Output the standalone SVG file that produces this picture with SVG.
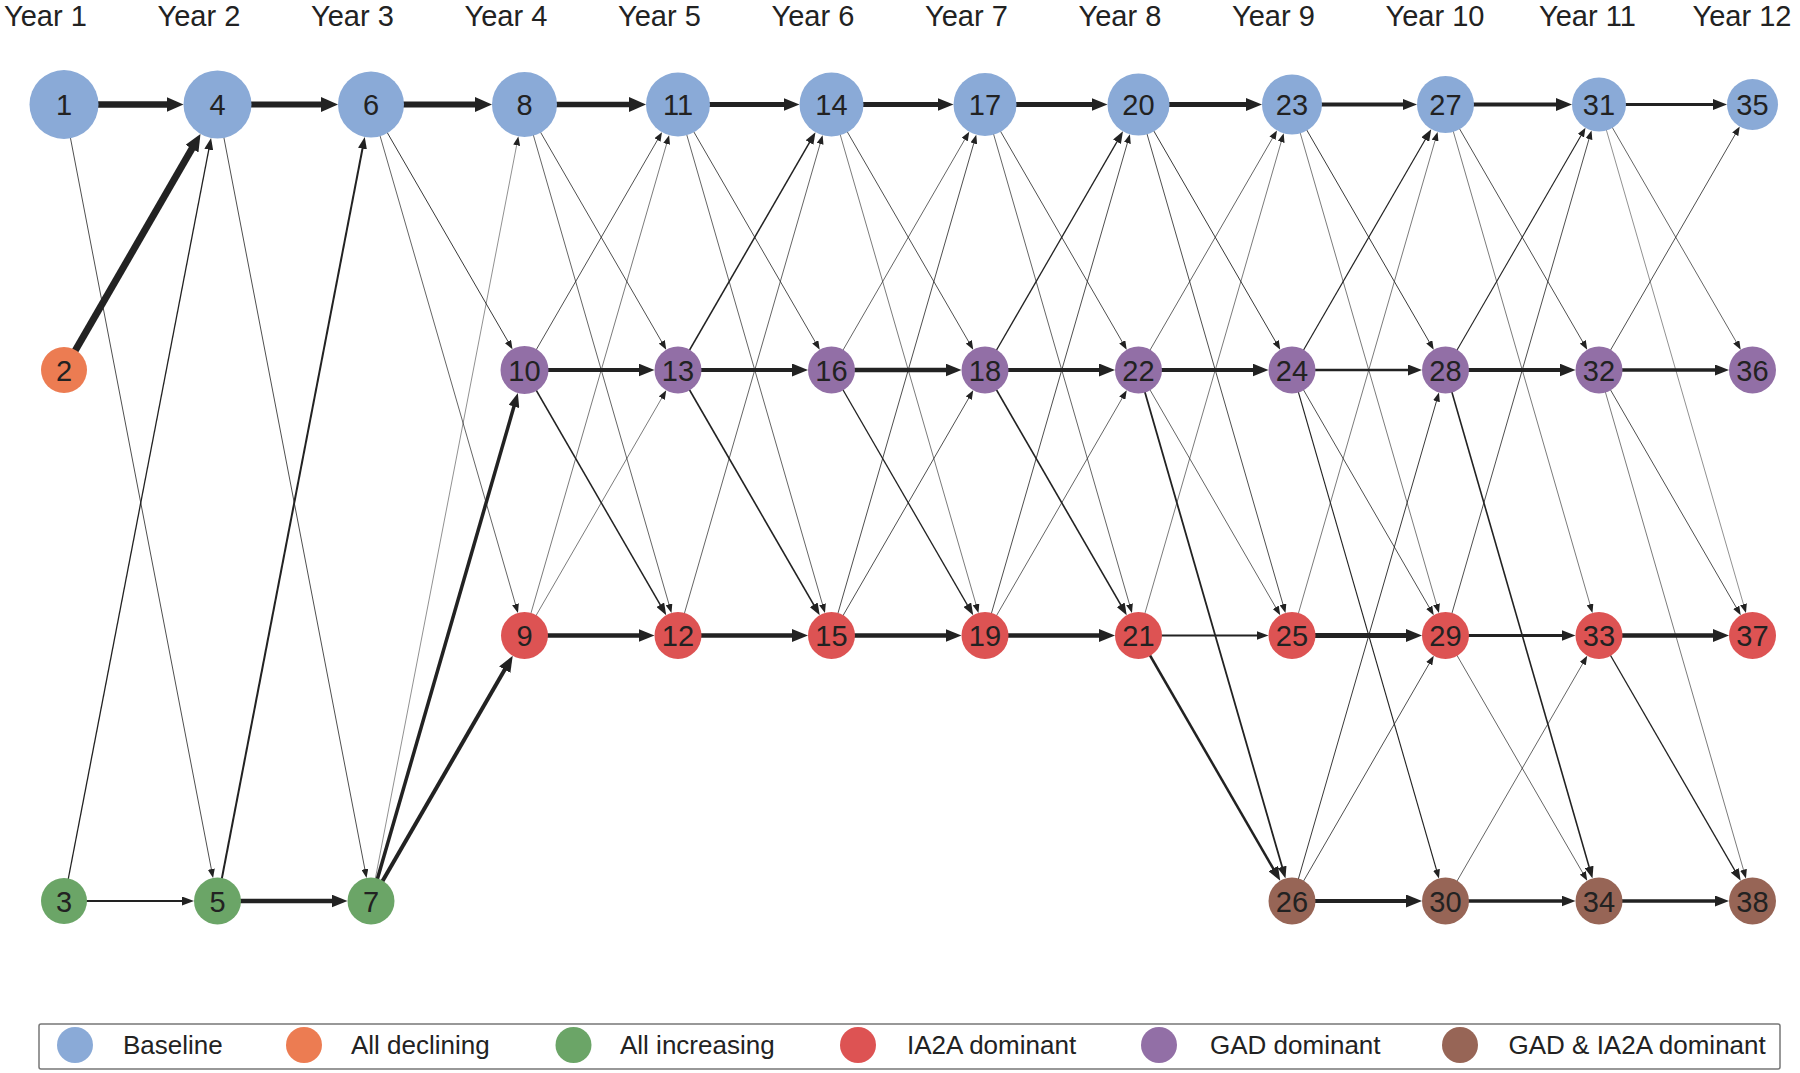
<svg xmlns="http://www.w3.org/2000/svg" width="1800" height="1073" viewBox="0 0 1800 1073">
<defs>
<style>
.e{fill:none;stroke:#222}
.base{fill:#8AAAD7}
.decl{fill:#EC7C52}
.inc{fill:#6BA567}
.ia2a{fill:#DD5353}
.gad{fill:#926FA6}
.both{fill:#976556}
text{font-family:"Liberation Sans",Arial,sans-serif;fill:#222}
.nl{font-size:29px;text-anchor:middle}
.yl{font-size:29px}
.lg{font-size:26px}
</style>
<marker id="m1" markerUnits="userSpaceOnUse" viewBox="0 0 9 7" markerWidth="9" markerHeight="7" refX="1" refY="3.5" orient="auto"><path d="M0,0L9,3.5L0,7z" fill="#222"/></marker>
<marker id="m2" markerUnits="userSpaceOnUse" viewBox="0 0 12 9" markerWidth="12" markerHeight="9" refX="1" refY="4.5" orient="auto"><path d="M0,0L12,4.5L0,9z" fill="#222"/></marker>
<marker id="m3" markerUnits="userSpaceOnUse" viewBox="0 0 14 11" markerWidth="14" markerHeight="11" refX="1" refY="5.5" orient="auto"><path d="M0,0L14,5.5L0,11z" fill="#222"/></marker>
<marker id="m4" markerUnits="userSpaceOnUse" viewBox="0 0 16 13" markerWidth="16" markerHeight="13" refX="1" refY="6.5" orient="auto"><path d="M0,0L16,6.5L0,13z" fill="#222"/></marker>
<marker id="m5" markerUnits="userSpaceOnUse" viewBox="0 0 17 15" markerWidth="17" markerHeight="15" refX="1" refY="7.5" orient="auto"><path d="M0,0L17,7.5L0,15z" fill="#222"/></marker>
</defs>
<rect width="1800" height="1073" fill="#fff"/>

<g id="year-labels">
<text class="yl" x="4" y="25.5">Year 1</text>
<text class="yl" x="157.5" y="25.5">Year 2</text>
<text class="yl" x="311" y="25.5">Year 3</text>
<text class="yl" x="464.5" y="25.5">Year 4</text>
<text class="yl" x="618" y="25.5">Year 5</text>
<text class="yl" x="771.5" y="25.5">Year 6</text>
<text class="yl" x="925" y="25.5">Year 7</text>
<text class="yl" x="1078.5" y="25.5">Year 8</text>
<text class="yl" x="1232" y="25.5">Year 9</text>
<text class="yl" x="1385.5" y="25.5">Year 10</text>
<text class="yl" x="1539" y="25.5">Year 11</text>
<text class="yl" x="1692.5" y="25.5">Year 12</text>
</g>

<g id="connectors">
<path class="e" d="M64,104.5L167.5,104.5" stroke-width="6.5" marker-end="url(#m5)"/>
<path class="e" d="M64,370L192.47,147.79" stroke-width="7" marker-end="url(#m5)"/>
<path class="e" d="M64,104.5L211.54,870.07" stroke-width="0.8" marker-end="url(#m1)"/>
<path class="e" d="M64,901L208.98,148.69" stroke-width="1.3" marker-end="url(#m2)"/>
<path class="e" d="M64,901L183,901" stroke-width="2" marker-end="url(#m2)"/>
<path class="e" d="M217.5,104.5L322,104.5" stroke-width="6" marker-end="url(#m5)"/>
<path class="e" d="M217.5,104.5L365.04,870.07" stroke-width="0.8" marker-end="url(#m1)"/>
<path class="e" d="M217.5,901L362.67,147.71" stroke-width="2" marker-end="url(#m2)"/>
<path class="e" d="M217.5,901L332.5,901" stroke-width="4.5" marker-end="url(#m4)"/>
<path class="e" d="M371,104.5L476,104.5" stroke-width="6" marker-end="url(#m5)"/>
<path class="e" d="M371,104.5L508.48,342.3" stroke-width="0.9" marker-end="url(#m1)"/>
<path class="e" d="M371,104.5L515.75,605.24" stroke-width="0.7" marker-end="url(#m1)"/>
<path class="e" d="M371,901L516.84,144.27" stroke-width="0.5" marker-end="url(#m1)"/>
<path class="e" d="M371,901L514.23,405.55" stroke-width="3.5" marker-end="url(#m3)"/>
<path class="e" d="M371,901L505.23,668.83" stroke-width="4" marker-end="url(#m4)"/>

<path class="e" d="M524.5,104.5L630,104.5" stroke-width="5.5" marker-end="url(#m5)"/>
<path class="e" d="M524.5,104.5L662.23,342.73" stroke-width="0.8" marker-end="url(#m1)"/>
<path class="e" d="M524.5,104.5L669.25,605.24" stroke-width="0.7" marker-end="url(#m1)"/>
<path class="e" d="M524.5,370L657.98,139.13" stroke-width="0.8" marker-end="url(#m1)"/>
<path class="e" d="M524.5,370L639.5,370" stroke-width="4" marker-end="url(#m4)"/>
<path class="e" d="M524.5,370L660.73,605.63" stroke-width="1.5" marker-end="url(#m2)"/>
<path class="e" d="M524.5,635.5L666.89,142.93" stroke-width="0.6" marker-end="url(#m1)"/>
<path class="e" d="M524.5,635.5L662.23,397.27" stroke-width="0.6" marker-end="url(#m1)"/>
<path class="e" d="M524.5,635.5L639.5,635.5" stroke-width="4.5" marker-end="url(#m4)"/>

<path class="e" d="M678,104.5L784.5,104.5" stroke-width="5" marker-end="url(#m4)"/>
<path class="e" d="M678,104.5L815.73,342.73" stroke-width="0.8" marker-end="url(#m1)"/>
<path class="e" d="M678,104.5L822.75,605.24" stroke-width="0.7" marker-end="url(#m1)"/>
<path class="e" d="M678,370L809.98,141.73" stroke-width="1.5" marker-end="url(#m2)"/>
<path class="e" d="M678,370L793,370" stroke-width="4" marker-end="url(#m4)"/>
<path class="e" d="M678,370L814.23,605.63" stroke-width="1.6" marker-end="url(#m2)"/>
<path class="e" d="M678,635.5L820.39,142.93" stroke-width="0.7" marker-end="url(#m1)"/>
<path class="e" d="M678,635.5L793,635.5" stroke-width="4.5" marker-end="url(#m4)"/>

<path class="e" d="M831.5,104.5L938.5,104.5" stroke-width="5" marker-end="url(#m4)"/>
<path class="e" d="M831.5,104.5L969.23,342.73" stroke-width="0.8" marker-end="url(#m1)"/>
<path class="e" d="M831.5,104.5L976.25,605.24" stroke-width="0.6" marker-end="url(#m1)"/>
<path class="e" d="M831.5,370L965.23,138.7" stroke-width="0.7" marker-end="url(#m1)"/>
<path class="e" d="M831.5,370L946.5,370" stroke-width="4.5" marker-end="url(#m4)"/>
<path class="e" d="M831.5,370L967.73,605.63" stroke-width="1.3" marker-end="url(#m2)"/>
<path class="e" d="M831.5,635.5L974.03,142.45" stroke-width="0.8" marker-end="url(#m1)"/>
<path class="e" d="M831.5,635.5L969.23,397.27" stroke-width="0.8" marker-end="url(#m1)"/>
<path class="e" d="M831.5,635.5L946.5,635.5" stroke-width="4.5" marker-end="url(#m4)"/>

<path class="e" d="M985,104.5L1092.5,104.5" stroke-width="5" marker-end="url(#m4)"/>
<path class="e" d="M985,104.5L1122.73,342.73" stroke-width="0.8" marker-end="url(#m1)"/>
<path class="e" d="M985,104.5L1129.75,605.24" stroke-width="0.7" marker-end="url(#m1)"/>
<path class="e" d="M985,370L1117.48,140.86" stroke-width="1.3" marker-end="url(#m2)"/>
<path class="e" d="M985,370L1100,370" stroke-width="4" marker-end="url(#m4)"/>
<path class="e" d="M985,370L1121.23,605.63" stroke-width="1.6" marker-end="url(#m2)"/>
<path class="e" d="M985,635.5L1127.67,141.97" stroke-width="0.8" marker-end="url(#m1)"/>
<path class="e" d="M985,635.5L1122.73,397.27" stroke-width="0.7" marker-end="url(#m1)"/>
<path class="e" d="M985,635.5L1100,635.5" stroke-width="4.5" marker-end="url(#m4)"/>

<path class="e" d="M1138.5,104.5L1247,104.5" stroke-width="5" marker-end="url(#m4)"/>
<path class="e" d="M1138.5,104.5L1276.23,342.73" stroke-width="0.9" marker-end="url(#m1)"/>
<path class="e" d="M1138.5,104.5L1283.25,605.24" stroke-width="0.8" marker-end="url(#m1)"/>
<path class="e" d="M1138.5,370L1272.98,137.4" stroke-width="0.7" marker-end="url(#m1)"/>
<path class="e" d="M1138.5,370L1253.5,370" stroke-width="4" marker-end="url(#m4)"/>
<path class="e" d="M1138.5,370L1276.23,608.23" stroke-width="0.7" marker-end="url(#m1)"/>
<path class="e" d="M1138.5,370L1282.42,867.86" stroke-width="1.8" marker-end="url(#m2)"/>
<path class="e" d="M1138.5,635.5L1281.45,141.01" stroke-width="0.6" marker-end="url(#m1)"/>
<path class="e" d="M1138.5,635.5L1257.5,635.5" stroke-width="2.2" marker-end="url(#m2)"/>
<path class="e" d="M1138.5,635.5L1273.73,869.4" stroke-width="2.5" marker-end="url(#m3)"/>

<path class="e" d="M1292,104.5L1404,104.5" stroke-width="4" marker-end="url(#m3)"/>
<path class="e" d="M1292,104.5L1429.73,342.73" stroke-width="0.9" marker-end="url(#m1)"/>
<path class="e" d="M1292,104.5L1436.75,605.24" stroke-width="0.6" marker-end="url(#m1)"/>
<path class="e" d="M1292,370L1425.73,138.7" stroke-width="1.2" marker-end="url(#m2)"/>
<path class="e" d="M1292,370L1409,370" stroke-width="2.7" marker-end="url(#m3)"/>
<path class="e" d="M1292,370L1429.73,608.23" stroke-width="0.8" marker-end="url(#m1)"/>
<path class="e" d="M1292,370L1436.75,870.74" stroke-width="1.1" marker-end="url(#m1)"/>
<path class="e" d="M1292,635.5L1435.36,139.57" stroke-width="0.6" marker-end="url(#m1)"/>
<path class="e" d="M1292,635.5L1407,635.5" stroke-width="5" marker-end="url(#m4)"/>
<path class="e" d="M1292,901L1436.75,400.26" stroke-width="0.9" marker-end="url(#m1)"/>
<path class="e" d="M1292,901L1429.73,662.77" stroke-width="0.8" marker-end="url(#m1)"/>
<path class="e" d="M1292,901L1407,901" stroke-width="4" marker-end="url(#m4)"/>

<path class="e" d="M1445.5,104.5L1557,104.5" stroke-width="4" marker-end="url(#m4)"/>
<path class="e" d="M1445.5,104.5L1583.23,342.73" stroke-width="0.8" marker-end="url(#m1)"/>
<path class="e" d="M1445.5,104.5L1590.25,605.24" stroke-width="0.6" marker-end="url(#m1)"/>
<path class="e" d="M1445.5,370L1581.48,134.8" stroke-width="1.1" marker-end="url(#m1)"/>
<path class="e" d="M1445.5,370L1560.5,370" stroke-width="4" marker-end="url(#m4)"/>
<path class="e" d="M1445.5,370L1589.42,867.86" stroke-width="1.6" marker-end="url(#m2)"/>
<path class="e" d="M1445.5,635.5L1589.28,138.12" stroke-width="0.8" marker-end="url(#m1)"/>
<path class="e" d="M1445.5,635.5L1562.5,635.5" stroke-width="3" marker-end="url(#m3)"/>
<path class="e" d="M1445.5,635.5L1583.23,873.73" stroke-width="0.7" marker-end="url(#m1)"/>
<path class="e" d="M1445.5,901L1583.23,662.77" stroke-width="0.7" marker-end="url(#m1)"/>
<path class="e" d="M1445.5,901L1562.5,901" stroke-width="3.3" marker-end="url(#m3)"/>

<path class="e" d="M1599,104.5L1714,104.5" stroke-width="3" marker-end="url(#m3)"/>
<path class="e" d="M1599,104.5L1736.73,342.73" stroke-width="0.7" marker-end="url(#m1)"/>
<path class="e" d="M1599,104.5L1743.75,605.24" stroke-width="0.5" marker-end="url(#m1)"/>
<path class="e" d="M1599,370L1735.73,133.5" stroke-width="0.8" marker-end="url(#m1)"/>
<path class="e" d="M1599,370L1716,370" stroke-width="3.3" marker-end="url(#m3)"/>
<path class="e" d="M1599,370L1736.73,608.23" stroke-width="0.8" marker-end="url(#m1)"/>
<path class="e" d="M1599,370L1743.75,870.74" stroke-width="0.6" marker-end="url(#m1)"/>
<path class="e" d="M1599,635.5L1714,635.5" stroke-width="4.7" marker-end="url(#m4)"/>
<path class="e" d="M1599,635.5L1735.23,871.13" stroke-width="1.3" marker-end="url(#m2)"/>
<path class="e" d="M1599,901L1716,901" stroke-width="3.3" marker-end="url(#m3)"/>
</g>

<g id="n1"><circle class="base" cx="64" cy="104.5" r="34.5"/><text class="nl" x="64" y="115">1</text></g>
<g id="n2"><circle class="decl" cx="64" cy="370" r="23"/><text class="nl" x="64" y="380.5">2</text></g>
<g id="n3"><circle class="inc" cx="64" cy="901" r="23"/><text class="nl" x="64" y="911.5">3</text></g>
<g id="n4"><circle class="base" cx="217.5" cy="104.5" r="34"/><text class="nl" x="217.5" y="115">4</text></g>
<g id="n5"><circle class="inc" cx="217.5" cy="901" r="23.5"/><text class="nl" x="217.5" y="911.5">5</text></g>
<g id="n6"><circle class="base" cx="371" cy="104.5" r="33"/><text class="nl" x="371" y="115">6</text></g>
<g id="n7"><circle class="inc" cx="371" cy="901" r="23.5"/><text class="nl" x="371" y="911.5">7</text></g>
<g id="n8"><circle class="base" cx="524.5" cy="104.5" r="32.5"/><text class="nl" x="524.5" y="115">8</text></g>
<g id="n10"><circle class="gad" cx="524.5" cy="370" r="24"/><text class="nl" x="524.5" y="380.5">10</text></g>
<g id="n9"><circle class="ia2a" cx="524.5" cy="635.5" r="23.5"/><text class="nl" x="524.5" y="646">9</text></g>
<g id="n11"><circle class="base" cx="678" cy="104.5" r="32"/><text class="nl" x="678" y="115">11</text></g>
<g id="n13"><circle class="gad" cx="678" cy="370" r="23.5"/><text class="nl" x="678" y="380.5">13</text></g>
<g id="n12"><circle class="ia2a" cx="678" cy="635.5" r="23.5"/><text class="nl" x="678" y="646">12</text></g>
<g id="n14"><circle class="base" cx="831.5" cy="104.5" r="32"/><text class="nl" x="831.5" y="115">14</text></g>
<g id="n16"><circle class="gad" cx="831.5" cy="370" r="23.5"/><text class="nl" x="831.5" y="380.5">16</text></g>
<g id="n15"><circle class="ia2a" cx="831.5" cy="635.5" r="23.5"/><text class="nl" x="831.5" y="646">15</text></g>
<g id="n17"><circle class="base" cx="985" cy="104.5" r="31.5"/><text class="nl" x="985" y="115">17</text></g>
<g id="n18"><circle class="gad" cx="985" cy="370" r="23.5"/><text class="nl" x="985" y="380.5">18</text></g>
<g id="n19"><circle class="ia2a" cx="985" cy="635.5" r="23.5"/><text class="nl" x="985" y="646">19</text></g>
<g id="n20"><circle class="base" cx="1138.5" cy="104.5" r="31"/><text class="nl" x="1138.5" y="115">20</text></g>
<g id="n22"><circle class="gad" cx="1138.5" cy="370" r="23.5"/><text class="nl" x="1138.5" y="380.5">22</text></g>
<g id="n21"><circle class="ia2a" cx="1138.5" cy="635.5" r="23.5"/><text class="nl" x="1138.5" y="646">21</text></g>
<g id="n23"><circle class="base" cx="1292" cy="104.5" r="30"/><text class="nl" x="1292" y="115">23</text></g>
<g id="n24"><circle class="gad" cx="1292" cy="370" r="23.5"/><text class="nl" x="1292" y="380.5">24</text></g>
<g id="n25"><circle class="ia2a" cx="1292" cy="635.5" r="23.5"/><text class="nl" x="1292" y="646">25</text></g>
<g id="n26"><circle class="both" cx="1292" cy="901" r="23.5"/><text class="nl" x="1292" y="911.5">26</text></g>
<g id="n27"><circle class="base" cx="1445.5" cy="104.5" r="28.5"/><text class="nl" x="1445.5" y="115">27</text></g>
<g id="n28"><circle class="gad" cx="1445.5" cy="370" r="23.5"/><text class="nl" x="1445.5" y="380.5">28</text></g>
<g id="n29"><circle class="ia2a" cx="1445.5" cy="635.5" r="23.5"/><text class="nl" x="1445.5" y="646">29</text></g>
<g id="n30"><circle class="both" cx="1445.5" cy="901" r="23.5"/><text class="nl" x="1445.5" y="911.5">30</text></g>
<g id="n31"><circle class="base" cx="1599" cy="104.5" r="27"/><text class="nl" x="1599" y="115">31</text></g>
<g id="n32"><circle class="gad" cx="1599" cy="370" r="23.5"/><text class="nl" x="1599" y="380.5">32</text></g>
<g id="n33"><circle class="ia2a" cx="1599" cy="635.5" r="23.5"/><text class="nl" x="1599" y="646">33</text></g>
<g id="n34"><circle class="both" cx="1599" cy="901" r="23.5"/><text class="nl" x="1599" y="911.5">34</text></g>
<g id="n35"><circle class="base" cx="1752.5" cy="104.5" r="25.5"/><text class="nl" x="1752.5" y="115">35</text></g>
<g id="n36"><circle class="gad" cx="1752.5" cy="370" r="23.5"/><text class="nl" x="1752.5" y="380.5">36</text></g>
<g id="n37"><circle class="ia2a" cx="1752.5" cy="635.5" r="23.5"/><text class="nl" x="1752.5" y="646">37</text></g>
<g id="n38"><circle class="both" cx="1752.5" cy="901" r="23.5"/><text class="nl" x="1752.5" y="911.5">38</text></g>

<g id="legend">
<rect x="39" y="1024" width="1741" height="45" rx="2" fill="#fff" stroke="#777" stroke-width="1.5"/>
<circle class="base" cx="75" cy="1045" r="18"/><text class="lg" x="123" y="1054">Baseline</text>
<circle class="decl" cx="304" cy="1045" r="18"/><text class="lg" x="351" y="1054">All declining</text>
<circle class="inc" cx="573.5" cy="1045" r="18"/><text class="lg" x="620" y="1054">All increasing</text>
<circle class="ia2a" cx="858" cy="1045" r="18"/><text class="lg" x="907" y="1054">IA2A dominant</text>
<circle class="gad" cx="1159" cy="1045" r="18"/><text class="lg" x="1210" y="1054">GAD dominant</text>
<circle class="both" cx="1460" cy="1045" r="18"/><text class="lg" x="1508.5" y="1054">GAD &amp; IA2A dominant</text>
</g>
</svg>
